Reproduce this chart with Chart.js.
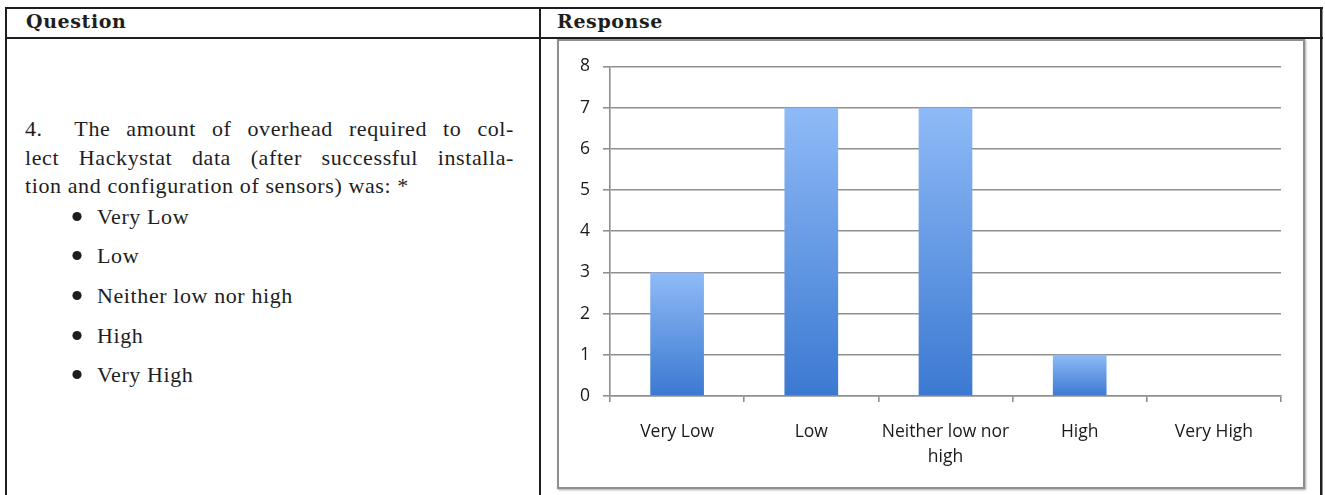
<!DOCTYPE html>
<html>
<head>
<meta charset="utf-8">
<title>Hackystat survey – question 4</title>
<script src="https://cdn.jsdelivr.net/npm/chart.js@4.4.0/dist/chart.umd.min.js"></script>
<style>
  html, body { margin: 0; padding: 0; background: #fff; }
  body { width: 1325px; height: 495px; position: relative; overflow: hidden; }
  #rules { position: absolute; left: 0; top: 0; }
  .hd { position: absolute; font: bold 19px "DejaVu Serif", serif; letter-spacing: 0.6px; line-height: 19px; color: #1e1e1e; white-space: nowrap; }
  .tx { position: absolute; font: 22px "Liberation Serif", serif; letter-spacing: 0.6px; line-height: 22px; color: #1e1e1e; white-space: nowrap; }
  .just { width: 489px; text-align: justify; text-align-last: justify; white-space: normal; }
  #frame { position: absolute; left: 557px; top: 39px; width: 744px; height: 446px;
           border: 2px solid #8e8e8e; box-shadow: 1px 1px 2px rgba(0,0,0,0.35); background: #fff; }
  #frame canvas { display: block; }
</style>
</head>
<body>
<!-- table rules and bullet marks -->
<svg id="rules" width="1325" height="495">
  <g fill="#1e1e1e">
    <rect x="5" y="7" width="1318" height="2"/>
    <rect x="5" y="37" width="1318" height="2"/>
    <rect x="5" y="7" width="2" height="488"/>
    <rect x="539" y="7" width="2" height="488"/>
    <rect x="1320" y="7" width="2.5" height="488"/>
    <circle cx="77" cy="216.5" r="4.6"/>
    <circle cx="77" cy="255.5" r="4.6"/>
    <circle cx="77" cy="295.5" r="4.6"/>
    <circle cx="77" cy="335.5" r="4.6"/>
    <circle cx="77" cy="374.5" r="4.6"/>
  </g>
</svg>

<div class="hd" style="left:26px; top:12px;">Question</div>
<div class="hd" style="left:557px; top:12px;">Response</div>

<div class="tx just" style="left:25px; top:117.6px;">4.&nbsp; The amount of overhead required to col-</div>
<div class="tx just" style="left:25px; top:146.6px;">lect Hackystat data (after successful installa-</div>
<div class="tx" style="left:25px; top:174.6px;">tion and configuration of sensors) was: *</div>

<div class="tx" style="left:97px; top:205.6px;">Very Low</div>
<div class="tx" style="left:97px; top:244.6px;">Low</div>
<div class="tx" style="left:97px; top:284.6px;">Neither low nor high</div>
<div class="tx" style="left:97px; top:324.6px;">High</div>
<div class="tx" style="left:97px; top:363.6px;">Very High</div>

<div id="frame"><canvas id="c" width="744" height="446"></canvas></div>

<script>
// Answer categories (multi-line where the label wraps)
const categories = ['Very Low', 'Low', ['Neither low nor', 'high'], 'High', 'Very High'];
// Number of respondents per answer
const responses = [3, 7, 7, 1, 0];
// Value axis range and step
const yMin = 0;
const yMax = 8;
const yStep = 1;

const tickFont = { family: '"Open Sans", "DejaVu Sans", sans-serif', size: 17.5, lineHeight: 25 / 17.5 };
const ruleColor = '#8f8f8f';

// Vertical light-to-dark blue shade for each bar, from its top down to the zero line
function barShade(c) {
  const chart = c.chart;
  const y = chart.scales && chart.scales.y;
  if (!y || !chart.chartArea) return '#6a9be6';
  const top = y.getPixelForValue(c.raw);
  const base = y.getPixelForValue(0);
  const g = chart.ctx.createLinearGradient(0, top, 0, Math.max(base, top + 1));
  g.addColorStop(0, '#8fbaf7');
  g.addColorStop(1, '#3b79d1');
  return g;
}

new Chart(document.getElementById('c'), {
  type: 'bar',
  data: {
    labels: categories,
    datasets: [{
      data: responses,
      backgroundColor: barShade,
      borderWidth: 0,
      barPercentage: 0.4,
      categoryPercentage: 1.0
    }]
  },
  options: {
    responsive: false,
    animation: false,
    devicePixelRatio: 1,
    layout: { padding: { left: 0, top: 21, right: 22, bottom: 0 } },
    plugins: { legend: { display: false }, tooltip: { enabled: false } },
    scales: {
      x: {
        offset: true,
        grid: { display: true, drawOnChartArea: false, drawTicks: true, tickLength: 6, offset: true, color: ruleColor, lineWidth: 1.6 },
        border: { display: true, color: ruleColor, width: 1.6 },
        ticks: { font: tickFont, color: '#1a1a1a', padding: 17.5, maxRotation: 0, autoSkip: false },
        afterFit(scale) { scale.height = 91; }
      },
      y: {
        min: yMin,
        max: yMax,
        grid: { display: true, drawTicks: true, tickLength: 7, color: ruleColor, lineWidth: 1.6 },
        border: { display: true, color: ruleColor, width: 1.6 },
        ticks: { stepSize: yStep, font: tickFont, color: '#1a1a1a', padding: 13 },
        afterFit(scale) { scale.width = 51; }
      }
    }
  }
});
</script>
</body>
</html>
